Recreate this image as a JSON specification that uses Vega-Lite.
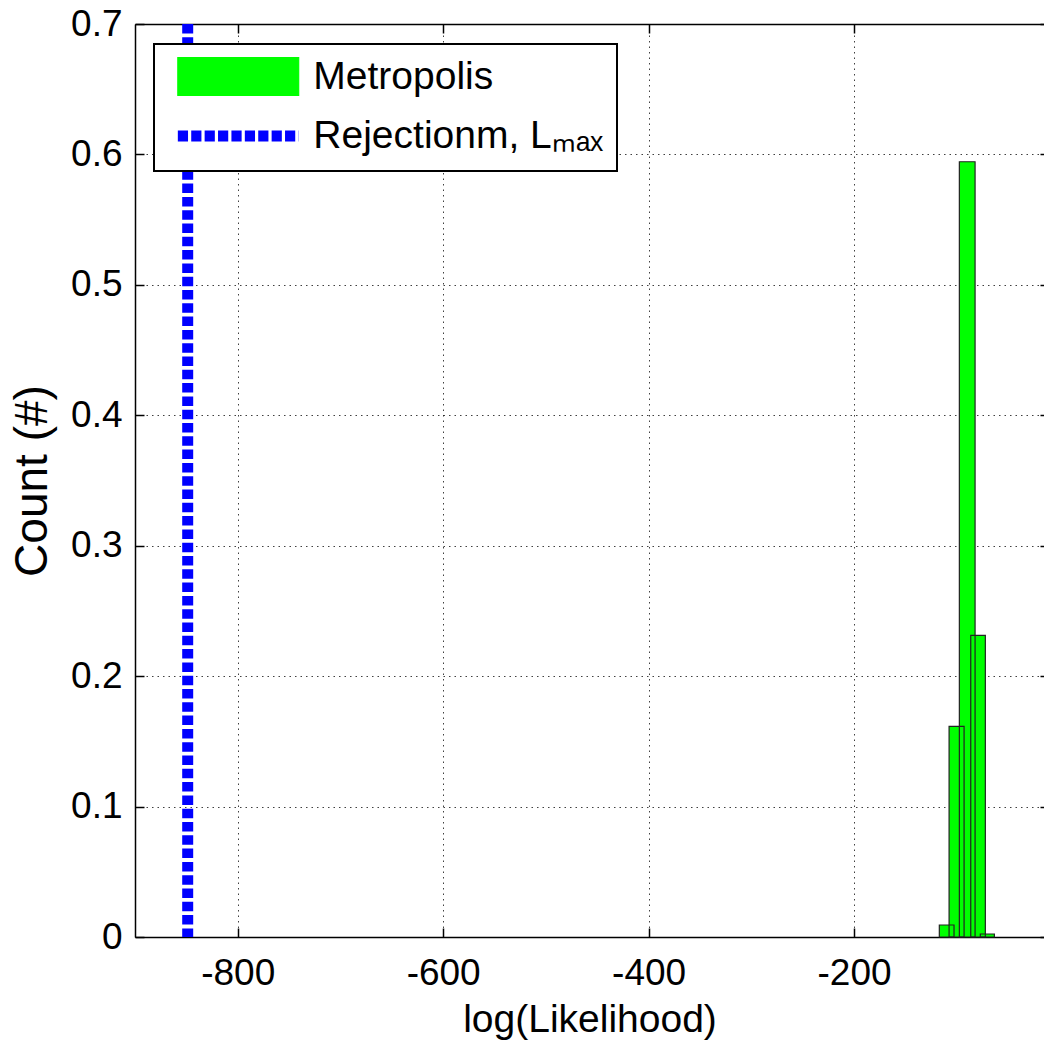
{
  "$schema": "https://vega.github.io/schema/vega-lite/v6.json",
  "width": 909,
  "height": 913,
  "autosize": "none",
  "padding": {"left": 135, "top": 24, "right": 0, "bottom": 111},
  "background": "#ffffff",
  "datasets": {
    "bins": [
      {"b0": -117.0, "b1": -102.7, "p": 0.0092},
      {"b0": -107.5, "b1": -92.9, "p": 0.1615},
      {"b0": -97.5, "b1": -82.2, "p": 0.5944},
      {"b0": -86.4, "b1": -72.2, "p": 0.2312},
      {"b0": -77.1, "b1": -63.4, "p": 0.0023}
    ],
    "lmax": [{"lmax": -848.7}]
  },
  "config": {
    "font": "Liberation Sans",
    "view": {"stroke": null},
    "axis": {
      "labelFont": "Liberation Sans",
      "titleFont": "Liberation Sans",
      "labelColor": "#000",
      "titleColor": "#000",
      "titleFontWeight": "normal",
      "labelFontSize": 37,
      "titleFontSize": 39,
      "domainColor": "#000",
      "domainWidth": 1.5,
      "tickColor": "#000",
      "tickWidth": 1.5,
      "gridColor": "#000",
      "gridOpacity": 0.75,
      "gridWidth": 1,
      "gridDash": [1.5, 4]
    }
  },
  "resolve": {"axis": {"x": "independent", "y": "independent"}},
  "layer": [
    {
      "data": {"name": "bins"},
      "mark": {"type": "rect", "strokeWidth": 0},
      "encoding": {
        "x": {"field": "b0", "type": "quantitative",
              "scale": {"domain": [-900, -15.1], "nice": false, "zero": false},
              "axis": {"orient": "bottom", "values": [-800, -600, -400, -200], "labelExpr": "'' + datum.value",
                       "tickSize": -9, "labelPadding": 27, "grid": true, "title": "log(Likelihood)", "titlePadding": 9}},
        "x2": {"field": "b1"},
        "y": {"field": "p", "type": "quantitative",
              "scale": {"domain": [0, 0.7], "nice": false},
              "axis": {"orient": "left", "values": [0, 0.1, 0.2, 0.3, 0.4, 0.5, 0.6, 0.7], "format": ".1~f",
                       "tickSize": -9, "labelPadding": 22, "grid": true, "title": "Count (#)", "titleFontSize": 46, "titlePadding": 14}},
        "y2": {"datum": 0},
        "color": {"datum": "Metropolis", "type": "nominal",
                  "scale": {"domain": ["Metropolis", "Rejectionm, Lₘₐₓ"], "range": ["#00ff00", "#0000ff"]},
                  "legend": {
                    "orient": "none", "legendX": 19, "legendY": 20, "title": null,
                    "padding": 13, "strokeColor": "#000", "fillColor": "#ffffff", "cornerRadius": 0,
                    "labelFont": "Liberation Sans", "labelFontSize": 39, "labelColor": "#000", "labelLimit": 0,
                    "symbolSize": 1444, "symbolStrokeWidth": 1.5, "symbolOffset": 51.75, "labelOffset": 55.6,
                    "rowPadding": 15.5,
                    "encode": {
                      "legend": {"update": {"strokeWidth": {"value": 2}}},
                      "symbols": {"update": {
                        "shape": {"signal": "datum.value === 'Metropolis' ? 'M-3.18,-1H3.18V1H-3.18Z' : 'M-3.18,0H3.18'"},
                        "fill": {"signal": "datum.value === 'Metropolis' ? '#00ff00' : 'transparent'"},
                        "fillOpacity": {"value": 1},
                        "opacity": {"value": 1},
                        "stroke": {"signal": "datum.value === 'Metropolis' ? '#222222' : '#0000ff'"},
                        "strokeWidth": {"signal": "datum.value === 'Metropolis' ? 1.2 : 11"},
                        "strokeDash": {"signal": "datum.value === 'Metropolis' ? [1, 0] : [10.2, 3.2]"}
                      }}
                    }
                  }}
      }
    },
    {
      "data": {"name": "bins"},
      "mark": {"type": "rect", "fillOpacity": 0, "stroke": "#222222", "strokeWidth": 1.2},
      "encoding": {
        "x": {"field": "b0", "type": "quantitative",
              "axis": {"orient": "top", "values": [-800, -600, -400, -200], "labels": false, "grid": false,
                       "tickSize": -9, "title": null}},
        "x2": {"field": "b1"},
        "y": {"field": "p", "type": "quantitative",
              "axis": {"orient": "right", "values": [0, 0.1, 0.2, 0.3, 0.4, 0.5, 0.6, 0.7], "labels": false, "grid": false,
                       "domain": false, "tickSize": -4, "title": null}},
        "y2": {"datum": 0}
      }
    },
    {
      "data": {"name": "lmax"},
      "mark": {"type": "rule", "strokeWidth": 11, "strokeDash": [9.5, 3.8]},
      "encoding": {
        "x": {"field": "lmax", "type": "quantitative", "axis": null},
        "color": {"datum": "Rejectionm, Lₘₐₓ", "type": "nominal"}
      }
    }
  ]
}
